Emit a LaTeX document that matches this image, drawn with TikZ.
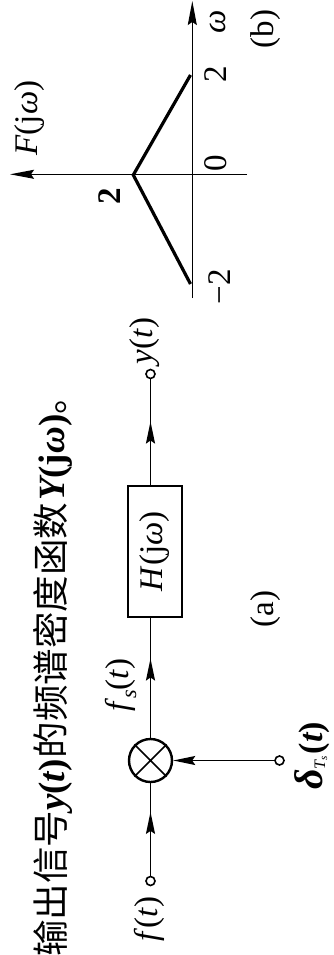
\documentclass[tikz,border=0pt]{standalone}
\usepackage{fontspec}
\setmainfont{Liberation Serif}
\newfontfamily\cjk{Noto Sans CJK SC}
\usetikzlibrary{arrows.meta,decorations.markings}
\tikzset{
 lbl/.style={rotate=90, inner sep=0pt, font=\fontsize{33}{38}\selectfont},
 wire/.style={line width=1.8pt},
 midarrow/.style={postaction={decorate}, decoration={markings, mark=at position #1 with {\arrow{Stealth[length=22pt,width=9pt,inset=3pt]}}}},
 endarrow/.style={-{Stealth[length=22pt,width=9pt,inset=3pt]}},
 port/.style={circle, draw, line width=1.6pt, fill=white, minimum size=9pt, inner sep=0pt},
 mult/.style={circle, draw, line width=2.4pt, minimum size=43pt, inner sep=0pt},
 block/.style={draw, line width=1.8pt, minimum width=54pt, minimum height=131pt, inner sep=0pt},
 axis/.style={line width=1.2pt, -{Stealth[length=24pt,width=9pt,inset=3pt]}},
 curve/.style={line width=3.2pt},
}
\begin{document}
\begin{tikzpicture}[x=1pt,y=-1pt]
\useasboundingbox (0,0) rectangle (334,955);
% ---- sentence
\node[rotate=90, anchor=base west, inner sep=0pt, font=\cjk\fontsize{36.5}{40}\selectfont] (txt) at (64,957)
 {输出信号{\rmfamily\bfseries\fontsize{37}{40}\selectfont\itshape y\upshape(\itshape t\upshape)}\hspace{1pt}的频谱密度函数\hspace{2pt}{\rmfamily\bfseries\fontsize{37}{40}\selectfont\itshape Y\upshape(j\itshape ω\upshape)}。};
% ---- block diagram (a)
\node[port] (fin) at (150.5,881) {};
\node[mult] (m) at (150.5,760.5) {};
\draw[line width=1.5pt] (m.45) -- (m.225) (m.135) -- (m.315);
\node[port] (din) at (279.5,760.5) {};
\node[block] (H) at (154.7,551.2) {\rotatebox{90}{\fontsize{33}{38}\selectfont\textit{H}(j\textit{ω})}};
\node[port] (yout) at (150.5,374) {};
\draw[wire, midarrow=0.69] (fin) -- (m);
\draw[line width=1.3pt, endarrow] (din) -- (m);
\draw[wire, midarrow=0.66] (m) -- (m |- H.south);
\draw[wire, midarrow=0.6] (yout |- H.north) -- (yout);
\node[lbl] (lf) at (149,919) {\textit{f}(\textit{t})};
\node[lbl] (lfs) at (121,685) {\textit{f}\raisebox{-0.22em}{\fontsize{22}{22}\selectfont\textit{s}}(\textit{t})};
\node[lbl] (ly) at (145,341) {\textit{y}(\textit{t})};
\node[lbl, anchor=base west] (ld) at (322,790) {{\fontsize{40}{40}\selectfont\bfseries\itshape δ}\raisebox{-3pt}{\fontsize{16}{16}\selectfont\itshape T\raisebox{-2pt}{\fontsize{11}{11}\selectfont s}}\hspace{2pt}{\fontsize{34}{38}\selectfont\bfseries(\itshape t\upshape)}};
\node[lbl] (la) at (266,609) {(a)};
% ---- plot (b)
\coordinate (w0) at (192.3,298);
\coordinate (w1) at (192.3,1);
\coordinate (f0) at (247,174.3);
\coordinate (f1) at (10,174.3);
\draw[axis] (w0) -- (w1);
\draw[axis] (f0) -- (f1);
\coordinate (pa) at (190.5,75);
\coordinate (pk) at (133.3,175);
\coordinate (pb) at (190.5,284);
\draw[curve] (pa) -- (pk) -- (pb);
\node[lbl] (lF) at (30,118) {\textit{F}(j\textit{ω})};
\node[lbl] (lw) at (218,22) {\textit{ω}};
\node[lbl] (lb) at (266,29) {(b)};
\node[lbl] (t2) at (216,74.5) {2};
\node[lbl] (t0) at (216,163) {0};
\node[lbl] (tm2) at (220,287) {−2};
\node[lbl] (pk2) at (110,196) {\bfseries 2};
\end{tikzpicture}
\end{document}
